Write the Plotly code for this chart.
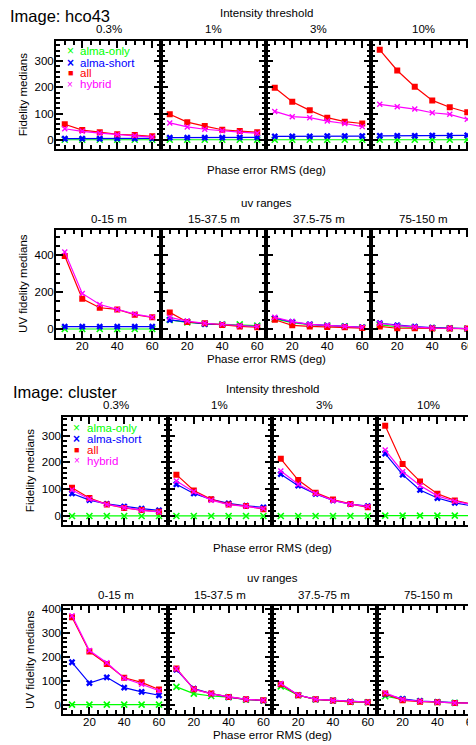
import plotly.graph_objects as go

# ---------------- data ----------------
phase = [10, 20, 30, 40, 50, 60]
intensity_labels = ["0.3%", "1%", "3%", "10%"]
uv_labels = ["0-15 m", "15-37.5 m", "37.5-75 m", "75-150 m"]
series_names = ["alma-only", "alma-short", "all", "hybrid"]

# hco43, fidelity medians per intensity threshold
hco_int_alma_only = [[0, 0, 0, 0, 0, 0], [0, 0, 0, 0, 0, 0], [0, 0, 0, 0, 0, 0], [0, 0, 0, 0, 0, 0]]
hco_int_alma_short = [[4, 4, 4, 5, 5, 5], [8, 8, 8, 8, 9, 9], [13, 13, 13, 14, 14, 14], [15, 15, 15, 16, 16, 17]]
hco_int_all = [[59, 37, 29, 21, 18, 13], [97, 67, 52, 38, 33, 29], [198, 145, 112, 84, 69, 62], [343, 264, 202, 150, 124, 105]]
hco_int_hybrid = [[42, 32, 25, 19, 15, 10], [64, 49, 40, 34, 29, 25], [108, 88, 84, 71, 62, 50], [135, 126, 117, 103, 97, 78]]

# hco43, UV fidelity medians per uv range
hco_uv_alma_only = [[0, 0, 0, 0, 0, 0], [49, 36, 29, 25, 25, 18], [54, 34, 23, 19, 14, 9], [22, 13, 9, 5, 4, 2]]
hco_uv_alma_short = [[13, 13, 13, 13, 13, 13], [49, 40, 27, 23, 16, 13], [59, 38, 25, 18, 14, 9], [31, 20, 13, 7, 4, 2]]
hco_uv_all = [[396, 164, 115, 106, 77, 63], [90, 38, 31, 22, 14, 9], [50, 20, 14, 11, 9, 5], [14, 4, 4, 2, 2, 2]]
hco_uv_hybrid = [[418, 193, 133, 106, 81, 64], [63, 43, 31, 25, 18, 13], [63, 40, 25, 20, 14, 9], [31, 18, 11, 5, 4, 2]]

# cluster, fidelity medians per intensity threshold
cl_int_alma_only = [[0, 0, 0, 0, 0, 0], [0, 0, 0, 0, 0, 0], [0, 0, 0, 0, 0, 0], [1, 1, 1, 1, 1, 1]]
cl_int_alma_short = [[84, 59, 45, 35, 27, 21], [118, 84, 62, 47, 38, 32], [156, 113, 82, 58, 44, 37], [233, 154, 97, 67, 49, 37]]
cl_int_all = [[105, 67, 43, 30, 22, 16], [154, 95, 62, 43, 37, 25], [213, 134, 87, 61, 45, 32], [337, 194, 129, 83, 58, 43]]
cl_int_hybrid = [[97, 63, 43, 31, 21, 15], [130, 90, 59, 42, 36, 27], [168, 118, 84, 58, 44, 35], [246, 165, 114, 75, 55, 42]]

# cluster, UV fidelity medians per uv range
cl_uv_alma_only = [[0, 0, 0, 0, 0, 0], [74, 46, 36, 31, 21, 17], [76, 39, 22, 17, 11, 10], [35, 22, 14, 10, 7, 6]]
cl_uv_alma_short = [[177, 90, 114, 71, 53, 39], [146, 67, 46, 31, 22, 17], [85, 40, 22, 17, 12, 10], [43, 24, 15, 11, 7, 6]]
cl_uv_all = [[365, 222, 170, 112, 93, 63], [151, 64, 46, 32, 22, 18], [85, 39, 22, 17, 11, 10], [46, 18, 12, 10, 7, 6]]
cl_uv_hybrid = [[372, 226, 175, 110, 85, 58], [150, 64, 45, 32, 22, 18], [88, 40, 22, 17, 12, 10], [49, 21, 14, 10, 7, 6]]

# ---------------- style ----------------
W, H = 476, 745
OFF = 8  # page body margin of the html page
FONT = "Liberation Sans"
colors = {"alma-only": "#00ff00", "alma-short": "#0000ff", "all": "#ff0000", "hybrid": "#ff00ff"}
markers = {
    "alma-only": dict(symbol="x-thin", size=6, line=dict(width=1.6, color="#00ff00")),
    "alma-short": dict(symbol="x", size=6, line=dict(width=0)),
    "all": dict(symbol="square", size=6, line=dict(width=0)),
    "hybrid": dict(symbol="x-thin", size=5, line=dict(width=1.4, color="#ff00ff")),
}


def fx(x):
    return (x - OFF) / W


def fy(y):
    return 1 - (y - OFF) / H


rows = [
    dict(data=[hco_int_alma_only, hco_int_alma_short, hco_int_all, hco_int_hybrid],
         top=38, bottom=147, edges=[56, 161, 266, 371, 476], yr=[-37, 377], dt=100, mdt=20, xlab=False),
    dict(data=[hco_uv_alma_only, hco_uv_alma_short, hco_uv_all, hco_uv_hybrid],
         top=227.7, bottom=336.7, edges=[56, 161, 266, 371, 476], yr=[-51, 538], dt=200, mdt=50, xlab=True),
    dict(data=[cl_int_alma_only, cl_int_alma_short, cl_int_all, cl_int_hybrid],
         top=415.7, bottom=524, edges=[63.3, 167.7, 272.1, 376.5, 480.9], yr=[-33.5, 369], dt=100, mdt=20, xlab=False),
    dict(data=[cl_uv_alma_only, cl_uv_alma_short, cl_uv_all, cl_uv_hybrid],
         top=605, bottom=714, edges=[63.3, 167.7, 272.1, 376.5, 480.9], yr=[-40, 414], dt=100, mdt=20, xlab=True),
]

fig = go.Figure()
layout = {}
n = 0
for r, row in enumerate(rows):
    for c in range(4):
        n += 1
        left, right = row["edges"][c], row["edges"][c + 1]
        xs = "" if n == 1 else str(n)
        for s, name in enumerate(series_names):
            fig.add_trace(go.Scatter(
                x=phase, y=row["data"][s][c], mode="lines+markers",
                xaxis="x" + xs, yaxis="y" + xs, showlegend=False, name=name,
                line=dict(color=colors[name], width=1.2),
                marker=dict(color=colors[name], **markers[name]),
            ))
        common = dict(showgrid=False, zeroline=False, showline=True, linecolor="black", linewidth=2,
                      ticks="inside", ticklen=7, tickwidth=1.5, tickcolor="black",
                      tickfont=dict(family=FONT, size=11.5, color="black"), fixedrange=True)
        layout["xaxis" + xs] = dict(
            common, domain=[fx(left), min(fx(right), 1)], range=[5, 65], anchor="y" + xs,
            tick0=0, dtick=20, mirror="ticks", showticklabels=row["xlab"], ticklabelstandoff=-4,
            minor=dict(ticks="inside", ticklen=4, tickwidth=1.5, tickcolor="black", dtick=5, tick0=0, showgrid=False),
        )
        layout["yaxis" + xs] = dict(
            common, domain=[fy(row["bottom"]), fy(row["top"])], range=row["yr"], anchor="x" + xs,
            tick0=0, dtick=row["dt"], mirror="ticks", showticklabels=(c == 0),
            ticklabelstandoff=-2,
            minor=dict(ticks="inside", ticklen=4, tickwidth=1.5, tickcolor="black", dtick=row["mdt"], tick0=0, showgrid=False),
        )

annotations = []


def txt(text, x, y, size=11.5, xanchor="center", angle=0, color="black"):
    annotations.append(dict(text=text, x=fx(x), y=fy(y), xref="paper", yref="paper", showarrow=False,
                            xanchor=xanchor, yanchor="middle", textangle=angle,
                            font=dict(family=FONT, size=size, color=color)))


# hco43 block
txt("Image: hco43", 8, 13, size=16.5, xanchor="left")
txt("Intensity threshold", 266, 10)
for c, lab in enumerate(intensity_labels):
    e = rows[0]["edges"]
    txt(lab, (e[c] + e[c + 1]) / 2, 26)
txt("Phase error RMS (deg)", 266, 168)
txt("Fidelity medians", 23, 92.5, angle=-90)
txt("uv ranges", 266, 200.7)
for c, lab in enumerate(uv_labels):
    e = rows[1]["edges"]
    txt(lab, (e[c] + e[c + 1]) / 2, 216.7)
txt("Phase error RMS (deg)", 266, 357.5)
txt("UV fidelity medians", 23, 282, angle=-90)

# cluster block
txt("Image: cluster", 11, 390.7, size=16.5, xanchor="left")
txt("Intensity threshold", 272, 387.3)
for c, lab in enumerate(intensity_labels):
    e = rows[2]["edges"]
    txt(lab, (e[c] + e[c + 1]) / 2, 404)
txt("Phase error RMS (deg)", 272, 547)
txt("Fidelity medians", 30, 470, angle=-90)
txt("uv ranges", 272, 577.3)
for c, lab in enumerate(uv_labels):
    e = rows[3]["edges"]
    txt(lab, (e[c] + e[c + 1]) / 2, 594.3)
txt("Phase error RMS (deg)", 272, 735)
txt("UV fidelity medians", 30, 659.5, angle=-90)

# legends
legend_symbols = {"alma-only": ("×", 12), "alma-short": ("<b>×</b>", 12), "all": ("■", 9), "hybrid": ("×", 10)}
for (mx, tx, ys) in [(70, 78, [48.3, 60, 70.7, 81.7]), (76.7, 85, [426.7, 437.7, 448.7, 459.7])]:
    for name, yy in zip(series_names, ys):
        sym, sz = legend_symbols[name]
        txt(sym, mx, yy, size=sz, color=colors[name])
        txt(name, tx, yy, size=11.5, xanchor="left", color=colors[name])

fig.update_layout(
    width=W, height=H, margin=dict(l=0, r=0, t=0, b=0),
    paper_bgcolor="white", plot_bgcolor="white", showlegend=False,
    annotations=annotations, **layout,
)
fig.write_html("out.html")
